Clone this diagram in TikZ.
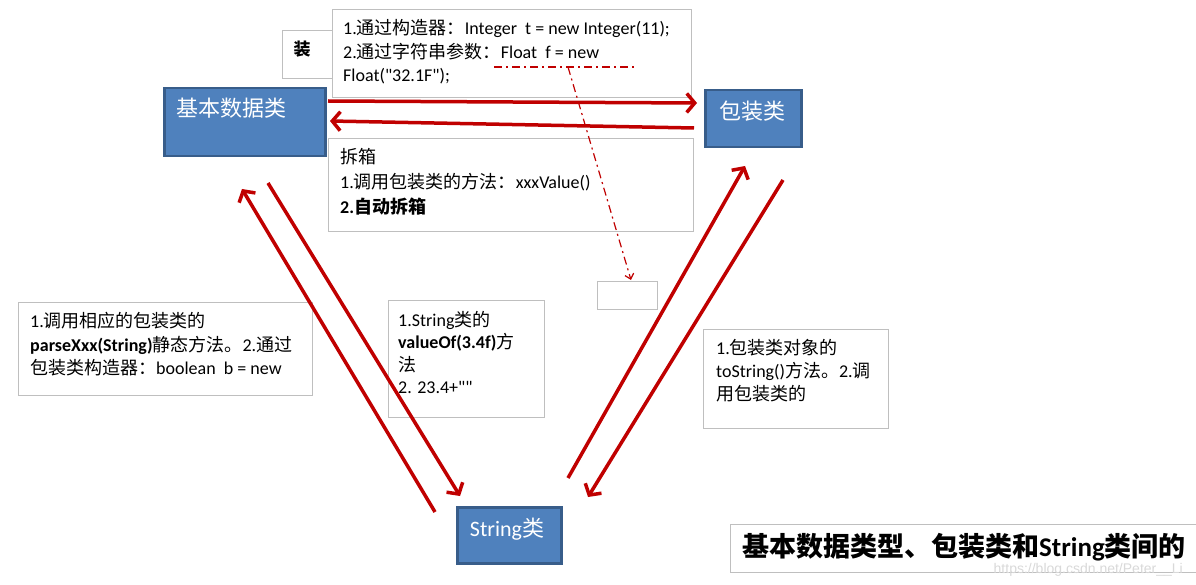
\documentclass[tikz,border=0pt]{standalone}
\usepackage{fontspec}
\setmainfont{Carlito}[Ligatures=TeXOff]
\newfontfamily\cjk{Noto Sans CJK SC}
\newfontfamily\wmfont{Liberation Sans}
\usetikzlibrary{arrows.meta}
\definecolor{myred}{RGB}{192,0,0}
\definecolor{bluefill}{RGB}{79,129,189}
\definecolor{blueline}{RGB}{56,93,138}
\definecolor{boxgray}{RGB}{191,191,191}
\tikzset{
  bluebox/.style={draw=blueline,fill=bluefill,line width=2.5pt,inner sep=0pt,anchor=north west},
  graybox/.style={draw=boxgray,fill=white,line width=1.2pt,inner sep=0pt,anchor=north west},
  bluetext/.style={text=white,font=\cjk\fontsize{22}{26}\selectfont,inner sep=0pt},
  boxtext/.style={inner sep=0pt,anchor=north west,align=left,font=\fontsize{18}{23.5}\selectfont},
  bigarrow/.style={draw=myred,line width=3.5pt,-{Straight Barb[length=8pt,width=19pt]}},
  dashline/.style={draw=myred,line width=1.6pt,dash pattern=on 8pt off 4pt on 2pt off 4pt},
  dasharrow/.style={draw=myred,line width=1.2pt,dash pattern=on 8pt off 4pt on 2pt off 4pt,-{Straight Barb[length=5pt,width=9pt]}}
}
\begin{document}
\begin{tikzpicture}[x=1pt,y=-1pt]
\useasboundingbox[fill=white] (0,0) rectangle (1196,585);
% gray text boxes
\node[graybox,minimum width=51pt,minimum height=48pt] (zbox) at (282,30) {};
\node[graybox,minimum width=359pt,minimum height=88pt] (topbox) at (332,9) {};
\node[graybox,minimum width=365pt,minimum height=93pt] (cbox) at (328,138) {};
\node[graybox,minimum width=294pt,minimum height=93pt] (lbox) at (18,302) {};
\node[graybox,minimum width=156pt,minimum height=117pt] (mbox) at (388,300) {};
\node[graybox,minimum width=185pt,minimum height=99pt] (rbox) at (703,329) {};
\node[graybox,minimum width=60pt,minimum height=28pt] (ebox) at (597,281) {};
\node[graybox,minimum width=480pt,minimum height=48pt] (tbox) at (730,524) {};
% blue boxes
\node[bluebox,minimum width=161pt,minimum height=68pt] (basic) at (163,87) {};
\node[bluebox,minimum width=96pt,minimum height=57pt] (wrap) at (704,89) {};
\node[bluebox,minimum width=104pt,minimum height=56pt] (str) at (456,506) {};
\node[bluetext,anchor=west] (basict) at (176,108) {基本数据类};
\node[bluetext] (wrapt) at (752,111) {包装类};
\node[bluetext,font=\fontsize{22}{26}\selectfont] (strt) at (507,529) {String{\cjk 类}};
% texts
\node[inner sep=0pt,font=\cjk\bfseries\fontsize{17}{20}\selectfont] (zt) at (302,49) {装};
\node[boxtext] (topt) at (343,19.2) {1.{\cjk 通过构造器：}Integer~~t = new Integer(11);\\
2.{\cjk 通过字符串参数：}Float~~f = new\\
Float("32.1F");};
\node[boxtext,font=\fontsize{18}{25}\selectfont] (ct) at (340,148.2) {{\cjk 拆箱}\\
1.{\cjk 调用包装类的方法：}xxxValue()\\
\textbf{2.{\cjk 自动拆箱}}};
\node[boxtext] (lt) at (30,312.2) {1.{\cjk 调用相应的包装类的}\\
\textbf{parseXxx(String)}{\cjk 静态方法。}2.{\cjk 通过}\\
{\cjk 包装类构造器：}boolean~~b = new};
\node[boxtext,font=\fontsize{18}{22.3}\selectfont] (mt) at (398,311.2) {1.String{\cjk 类的}\\
\textbf{valueOf(3.4f)}{\cjk 方}\\
{\cjk 法}\\
2. 23.4+""};
\node[boxtext,font=\fontsize{18}{23}\selectfont] (rt) at (716,339.2) {1.{\cjk 包装类对象的}\\
toString(){\cjk 方法。}2.{\cjk 调}\\
{\cjk 用包装类的}};
\node[inner sep=0pt,anchor=west,font=\bfseries\fontsize{27}{30}\selectfont] (tt) at (742,547) {{\cjk 基本数据类型、包装类和}String{\cjk 类间的}};
\node[inner sep=0pt,anchor=east,text=black!15,font=\wmfont\fontsize{14}{16}\selectfont] (wm) at (1183,570) {https://blog.csdn.net/Peter\_\_Li};
% connector ends
\coordinate (a1s) at (328,101); \coordinate (a1e) at (697,103);
\coordinate (a2s) at (694,128); \coordinate (a2e) at (330,121);
\coordinate (a3s) at (435,512); \coordinate (a3e) at (242,189);
\coordinate (a4s) at (268,183); \coordinate (a4e) at (460,496);
\coordinate (a5s) at (568,478); \coordinate (a5e) at (745,166);
\coordinate (a6s) at (783,180); \coordinate (a6e) at (588,497);
\coordinate (d1s) at (494,67); \coordinate (d1e) at (637,67);
\coordinate (d2s) at (568,67); \coordinate (d2e) at (631,280);
% arrows
\draw[bigarrow] (a1s) -- (a1e);
\draw[bigarrow] (a2s) -- (a2e);
\draw[bigarrow] (a3s) -- (a3e);
\draw[bigarrow] (a4s) -- (a4e);
\draw[bigarrow] (a5s) -- (a5e);
\draw[bigarrow] (a6s) -- (a6e);
\draw[dashline] (d1s) -- (d1e);
\draw[dasharrow] (d2s) -- (d2e);
\end{tikzpicture}
\end{document}
